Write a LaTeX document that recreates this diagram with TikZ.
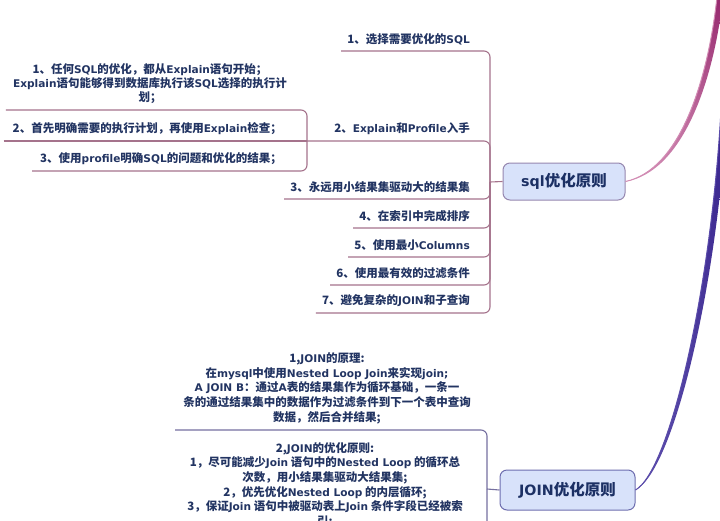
\documentclass[tikz,border=0pt]{standalone}
\usepackage{fontspec}
\setmainfont{Noto Sans CJK SC}
\newfontfamily\latn{DejaVu Sans}[Scale=0.92]
\newcommand\latw[1]{{\latn #1}}
\definecolor{txt}{RGB}{34,52,98}
\definecolor{nodetxt}{RGB}{28,48,100}
\definecolor{sqlc}{RGB}{165,115,140}
\definecolor{joinc}{RGB}{118,112,160}
\definecolor{nfill}{RGB}{216,226,250}
\definecolor{sqlborder}{RGB}{150,135,175}
\definecolor{joinborder}{RGB}{110,110,175}
\definecolor{magd}{RGB}{150,40,110}
\definecolor{magl}{RGB}{210,140,180}
\definecolor{blued}{RGB}{55,35,140}
\definecolor{bluel}{RGB}{90,75,170}
\begin{document}
\begin{tikzpicture}[x=1pt,y=-1pt,
  item/.style={text=txt, font=\bfseries\fontsize{11.5}{14}\selectfont, inner xsep=6pt, inner ysep=6pt, anchor=south east},
  block/.style={text=txt, font=\bfseries\fontsize{11.5}{14}\selectfont, align=center, inner ysep=6pt},
  jblock/.style={text=txt, font=\bfseries\fontsize{11.5}{14.7}\selectfont, align=center, inner xsep=8pt, inner ysep=6pt},
  topic/.style={text=nodetxt, font=\bfseries\fontsize{15.5}{18}\selectfont, fill=nfill, rounded corners=7pt, line width=1pt, inner sep=0pt},
  sline/.style={draw=sqlc, line width=1.1pt, rounded corners=6pt},
  jline/.style={draw=joinc, line width=1.1pt, rounded corners=6pt}]
\useasboundingbox (0,0) rectangle (720,520);
\clip (0,0) rectangle (720,520);
\fill[white] (0,0) rectangle (720,520);

% main topics
\node[topic, draw=sqlborder, minimum width=122pt, minimum height=37pt] (sql) at (564,181.5) {\latw{sql}优化原则};
\node[topic, draw=joinborder, minimum width=135pt, minimum height=40pt] (join) at (567.5,490) {\latw{JOIN}优化原则};

% root curves
\coordinate (top1) at (717,-3);
\coordinate (top2) at (721,110);
\shade[top color=magd, bottom color=magl] (sql.east) .. controls (680,170) and (708,80) .. (top1) -- ([xshift=6pt]top1) .. controls (714,80) and (683,172) .. (sql.east) -- cycle;
\draw[magl, line width=1pt] (sql.east) .. controls (680,170) and (708,80) .. (top1);
\shade[top color=blued, bottom color=bluel] (join.east) .. controls (670,470) and (711,290) .. (top2) -- ([xshift=6pt]top2) .. controls (717,290) and (673,471) .. (join.east) -- cycle;
\draw[bluel, line width=1pt] (join.east) .. controls (670,470) and (711,290) .. (top2);

% sql branch
\coordinate (hub1) at (490,182);
\coordinate (hub2) at (307,141);
\coordinate (hubJ) at (487,489);

\node[item] (i1) at (476,51) {1、选择需要优化的\latw{SQL}};
\node[item] (i2) at (476,141) {2、\latw{Explain}和\latw{Profile}入手};
\node[item] (i3) at (476,199) {3、永远用小结果集驱动大的结果集};
\node[item] (i4) at (476,228) {4、在索引中完成排序};
\node[item] (i5) at (476,257) {5、使用最小\latw{Columns}};
\node[item] (i6) at (476,285) {6、使用最有效的过滤条件};
\node[item] (i7) at (476,313) {7、避免复杂的\latw{JOIN}和子查询};

\draw[sline] (hub1) -- (sql.west);
\foreach \n in {i1,i3,i4,i5,i6,i7} \draw[sline] (\n.south west) -| (hub1);
\draw[sline] (hub2) -- (i2.south west) -| (hub1);

% children of item 2
\node[block, inner xsep=7pt, anchor=south] (c1) at (150,110) {1、任何\latw{SQL}的优化，都从\latw{Explain}语句开始；\\\latw{Explain}语句能够得到数据库执行该\latw{SQL}选择的执行计\\划；};
\node[item, inner xsep=9pt] (c2) at (291,141) {2、首先明确需要的执行计划，再使用\latw{Explain}检查；};
\node[item, inner xsep=8pt] (c3) at (290,171) {3、使用\latw{profile}明确\latw{SQL}的问题和优化的结果；};
\draw[sline] (c1.south west) -| (hub2);
\draw[sline] (c2.south west) -- (hub2);
\draw[sline] (c3.south west) -| (hub2);

% JOIN branch
\node[jblock, anchor=south] (ja) at (327,430) {1,\latw{JOIN}的原理:\\在\latw{mysql}中使用\latw{Nested Loop Join}来实现\latw{join;}\\\latw{A JOIN B}：通过\latw{A}表的结果集作为循环基础，一条一\\条的通过结果集中的数据作为过滤条件到下一个表中查询\\数据，然后合并结果;};
\node[jblock, anchor=north, inner ysep=3pt] (jb) at (325,439) {2,\latw{JOIN}的优化原则:\\1，尽可能减少\latw{Join} 语句中的\latw{Nested Loop} 的循环总\\次数，用小结果集驱动大结果集;\\2，优先优化\latw{Nested Loop} 的内层循环;\\3，保证\latw{Join} 语句中被驱动表上\latw{Join} 条件字段已经被索\\引;};
\draw[jline] (hubJ) -- (join.west);
\draw[jline] (ja.south west) -| (hubJ);
\draw[jline] (jb.south west) -| (hubJ);
\end{tikzpicture}
\end{document}
